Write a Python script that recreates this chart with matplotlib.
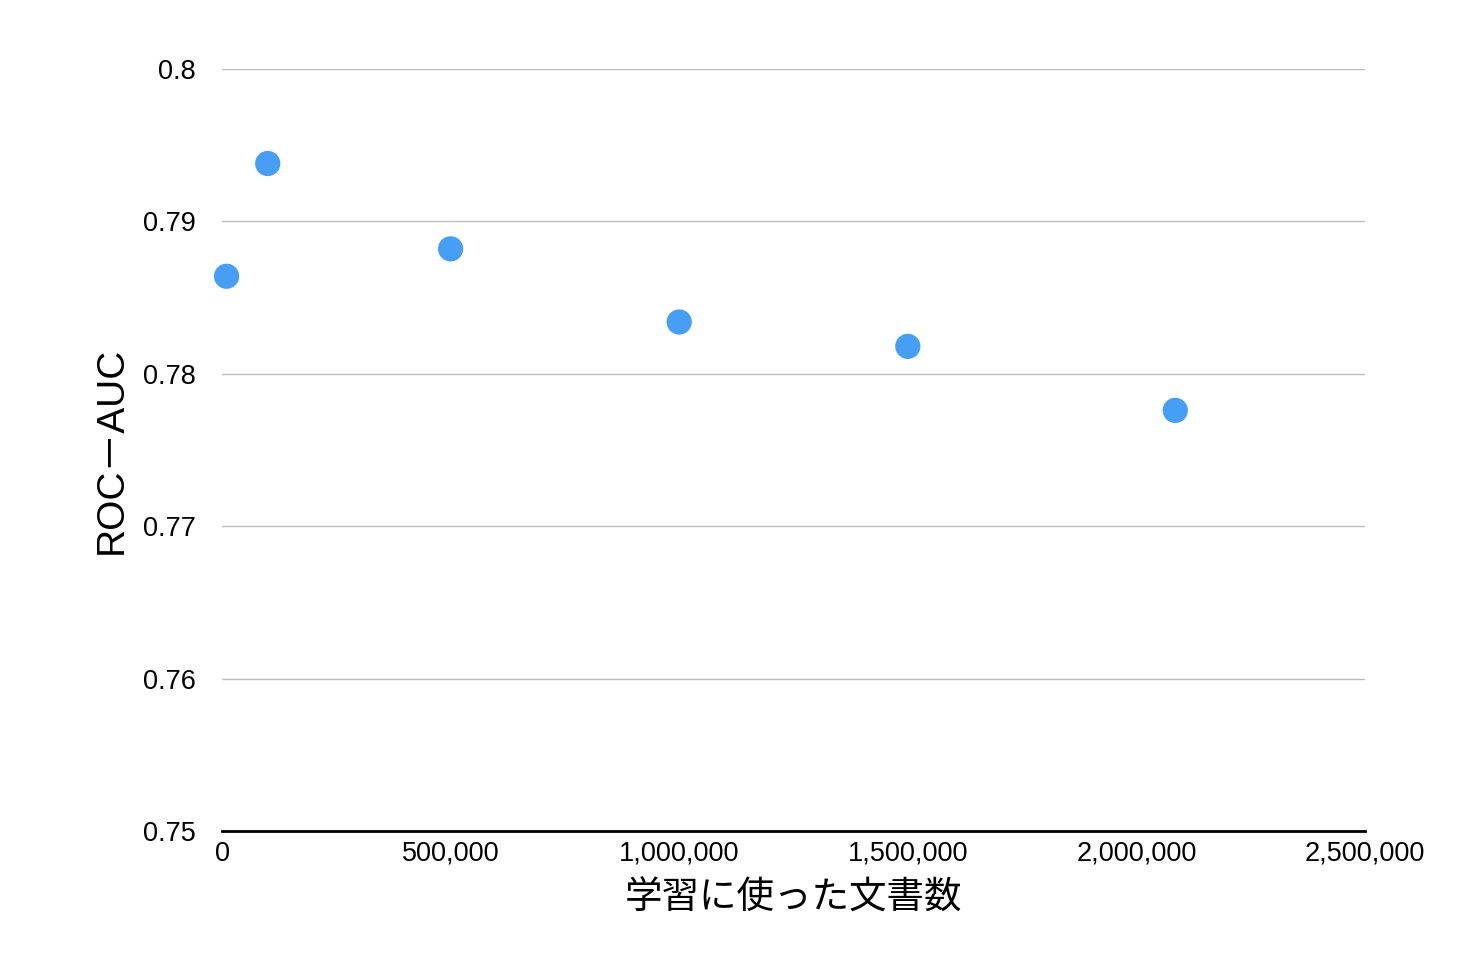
import matplotlib
matplotlib.use("Agg")
import matplotlib.pyplot as plt
from matplotlib.ticker import FuncFormatter

plt.rcParams["font.family"] = ["Liberation Sans", "Noto Sans CJK JP", "DejaVu Sans"]

# 学習に使った文書数 と ROC-AUC
docs = [10000, 100000, 500000, 1000000, 1500000, 2085000]
auc = [0.7864, 0.7938, 0.7882, 0.7834, 0.7818, 0.7776]

x_ticks = [0, 500000, 1000000, 1500000, 2000000, 2500000]
y_ticks = [0.75, 0.76, 0.77, 0.78, 0.79, 0.8]
y_labels = ["0.75", "0.76", "0.77", "0.78", "0.79", "0.8"]

fig = plt.figure(figsize=(14.74, 9.8), dpi=100)
ax = fig.add_axes([222 / 1474, 1 - 831 / 980, (1365 - 222) / 1474, (831 - 69) / 980])

ax.scatter(docs, auc, s=330, color="#479ef5", edgecolors="none", zorder=3, clip_on=False)

ax.set_xlim(0, 2500000)
ax.set_ylim(0.75, 0.8)
ax.set_xticks(x_ticks)
ax.set_yticks(y_ticks)
ax.set_yticklabels(y_labels)
ax.xaxis.set_major_formatter(FuncFormatter(lambda v, p: f"{int(v):,}"))

ax.grid(axis="y", color="#bdbdbd", linewidth=1.0)
ax.set_axisbelow(True)
for side in ["top", "right", "left"]:
    ax.spines[side].set_visible(False)
ax.spines["bottom"].set_linewidth(2)
ax.spines["bottom"].set_color("black")
ax.spines["bottom"].set_zorder(4)

ax.tick_params(axis="both", length=0, labelsize=19.5)
ax.tick_params(axis="y", pad=19)
ax.tick_params(axis="x", pad=7)

ax.set_xlabel("学習に使った文書数", fontsize=27, labelpad=9,
              family=["Noto Sans CJK JP", "DejaVu Sans"])
ax.set_ylabel("ROC－AUC", fontsize=28, labelpad=9)

fig.savefig("out.png", dpi=100)
